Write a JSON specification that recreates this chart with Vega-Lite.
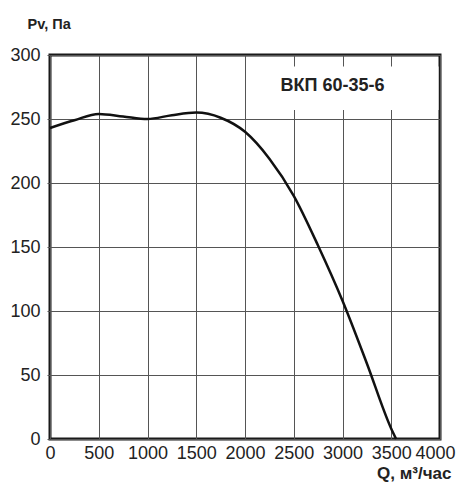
{
  "$schema": "https://vega.github.io/schema/vega-lite/v6.json",
  "width": 390,
  "height": 384,
  "padding": {"left": 50, "top": 55, "right": 19, "bottom": 44},
  "autosize": {"type": "none"},
  "background": "white",
  "config": {
    "font": "Liberation Sans",
    "view": {"stroke": "#1a1a1a", "strokeWidth": 3}
  },
  "datasets": {
    "curve": [
      {"q": 0, "p": 243},
      {"q": 250, "p": 249},
      {"q": 500, "p": 254},
      {"q": 750, "p": 252},
      {"q": 1000, "p": 250},
      {"q": 1250, "p": 253},
      {"q": 1500, "p": 255},
      {"q": 1750, "p": 251},
      {"q": 2000, "p": 240},
      {"q": 2250, "p": 219},
      {"q": 2500, "p": 190},
      {"q": 2750, "p": 151},
      {"q": 3000, "p": 108},
      {"q": 3250, "p": 59},
      {"q": 3500, "p": 8},
      {"q": 3550, "p": 0}
    ],
    "label": [
      {"x1": 2400, "x2": 3985, "y1": 257, "y2": 291, "tx": 2897, "ty": 276, "t": "ВКП 60-35-6"}
    ]
  },
  "layer": [
    {
      "data": {"name": "label"},
      "mark": {"type": "rect", "fill": "white", "stroke": null},
      "encoding": {
        "x": {
          "field": "x1", "type": "quantitative",
          "scale": {"domain": [0, 4000], "nice": false},
          "axis": {
            "values": [0, 500, 1000, 1500, 2000, 2500, 3000, 3500, 4000],
            "format": "d",
            "grid": true, "gridColor": "#555", "gridWidth": 1,
            "ticks": false, "domain": false,
            "labelFontSize": 18, "labelColor": "#222", "labelPadding": 5,
            "labelFlush": false, "labelOverlap": false,
            "labelOffset": {"condition": {"test": "datum.value == 4000", "value": -5}, "value": 0},
            "title": "Q, м³/час", "titleFontSize": 17, "titleFontWeight": "bold",
            "titleColor": "#222", "titleAnchor": "end", "titleAlign": "right",
            "titleBaseline": "alphabetic",
            "titleX": 401, "titleY": 39
          }
        },
        "x2": {"field": "x2"},
        "y": {
          "field": "y1", "type": "quantitative",
          "scale": {"domain": [0, 300], "nice": false},
          "axis": {
            "values": [0, 50, 100, 150, 200, 250, 300],
            "grid": true, "gridColor": "#555", "gridWidth": 1,
            "ticks": true, "tickSize": 3, "tickColor": "#555", "domain": false,
            "labelFontSize": 18, "labelColor": "#222", "labelPadding": 7,
            "title": "Pv, Па", "titleFontSize": 14.5, "titleFontWeight": "bold",
            "titleColor": "#222", "titleAngle": 0, "titleAlign": "left",
            "titleBaseline": "alphabetic", "titleX": -23, "titleY": -27
          }
        },
        "y2": {"field": "y2"}
      }
    },
    {
      "data": {"name": "label"},
      "mark": {"type": "text", "fontSize": 18, "fontWeight": "bold", "color": "#222"},
      "encoding": {
        "x": {"field": "tx", "type": "quantitative"},
        "y": {"field": "ty", "type": "quantitative"},
        "text": {"field": "t"}
      }
    },
    {
      "data": {"name": "curve"},
      "mark": {"type": "line", "interpolate": "monotone", "color": "#111", "strokeWidth": 2.5},
      "encoding": {
        "x": {"field": "q", "type": "quantitative"},
        "y": {"field": "p", "type": "quantitative"}
      }
    }
  ]
}
